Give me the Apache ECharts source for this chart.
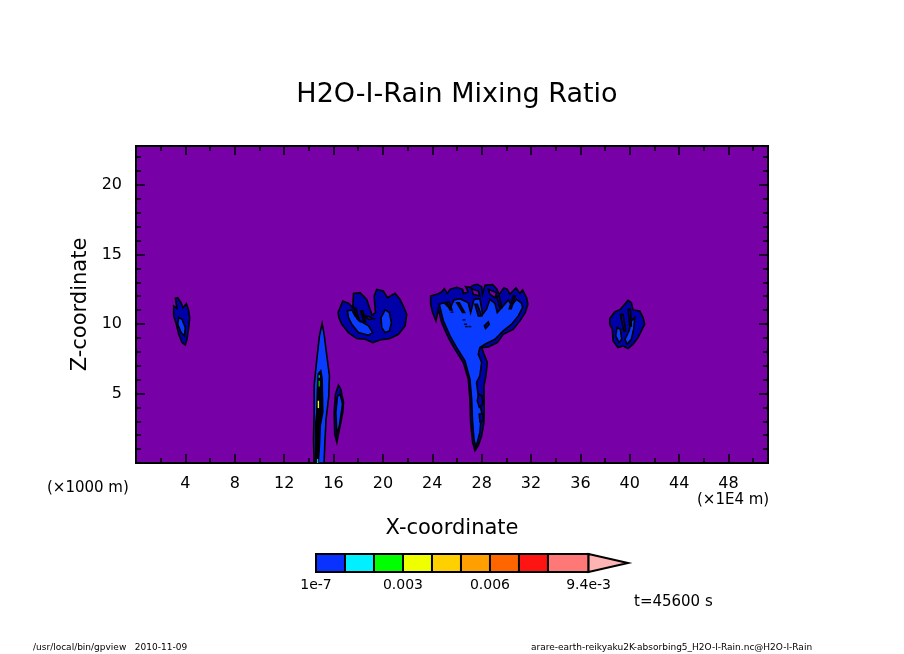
<!DOCTYPE html>
<html>
<head>
<meta charset="utf-8">
<title>H2O-I-Rain Mixing Ratio</title>
<script src="https://cdn.jsdelivr.net/npm/echarts@6/dist/echarts.min.js"></script>
<style>
  html, body { margin: 0; padding: 0; background: #fff; }
  #main { width: 904px; height: 654px; }
</style>
</head>
<body>
<div id="main"></div>
<script>
// tick positions and labels
var xMajorTicks = [4, 8, 12, 16, 20, 24, 28, 32, 36, 40, 44, 48];
var xMinorTicks = [2, 6, 10, 14, 18, 22, 26, 30, 34, 38, 42, 46, 50];
var zMajorTicks = [5, 10, 15, 20];
var zMinorTicks = [1, 2, 3, 4, 6, 7, 8, 9, 11, 12, 13, 14, 16, 17, 18, 19, 21, 22];

// colour bar
var barBounds = [0.0000001, 0.001, 0.002, 0.003, 0.004, 0.005, 0.006, 0.007, 0.008, 0.0094];
var barOverflow = 0.01076;
var barTicks = [0.0000001, 0.003, 0.006, 0.0094];
var barTickLabels = ['1e-7', '0.003', '0.006', '9.4e-3'];

// contour outlines, [x (1E4 m), z (1000 m)]
var plumeA = [[14.43,0],[14.38,1.72],[14.43,3.64],[14.43,5.55],[14.65,7.47],[14.86,9.14],[15.08,10.03],[15.24,9.26],[15.46,7.71],[15.67,6.27],[15.62,4.83],[15.40,3.16],[15.30,1.48],[15.24,0]];
var plumeACore = [[14.54,0],[14.54,2.68],[14.65,3.64],[14.70,5.31],[14.76,6.39],[14.97,6.63],[15.08,6.03],[15.13,3.64],[14.92,2.68],[14.86,1.25],[14.76,0]];
var streakGreen = [[14.80,5.91],[14.88,5.91],[14.88,5.50],[14.80,5.50]];
var streakYellow = [[14.72,4.48],[14.83,4.48],[14.83,3.95],[14.72,3.95]];
var streakCyan = [[14.80,6.32],[14.88,6.32],[14.88,6.13],[14.80,6.13]];
var streakCyanLow = [[14.68,0.28],[14.76,0.28],[14.76,0],[14.68,0]];

var plumeB = [[16.27,1.48],[16.10,2.08],[16.05,3.64],[16.16,4.95],[16.40,5.60],[16.59,5.31],[16.81,4.36],[16.75,3.64],[16.54,2.68],[16.37,1.96]];
var plumeBInner = [[16.27,2.08],[16.19,3.64],[16.32,4.79],[16.54,4.95],[16.73,4.24],[16.48,2.68]];

var capC = [[16.37,10.82],[16.75,11.65],[17.21,11.49],[17.56,11.18],[17.62,12.20],[18.15,12.25],[18.69,11.77],[18.91,11.18],[19.13,10.63],[19.40,10.82],[19.29,12.01],[19.50,12.49],[20.04,12.37],[20.37,11.89],[20.99,12.20],[21.39,11.77],[21.71,11.18],[21.93,10.70],[21.80,9.86],[21.26,9.26],[20.58,8.95],[19.77,8.85],[19.18,8.66],[18.56,8.90],[17.88,8.95],[17.21,9.38],[16.67,9.98],[16.43,10.46]];
var capCLeft = [[17.13,10.94],[17.48,11.01],[17.75,10.58],[18.15,10.22],[18.83,9.86],[19.18,9.38],[18.83,9.19],[18.02,9.38],[17.48,9.98],[17.21,10.46]];
var capCRight = [[20.18,11.01],[20.53,10.82],[20.69,10.10],[20.53,9.50],[20.18,9.38],[19.91,9.74],[19.85,10.46]];
var capCStrand1 = [[17.62,11.18],[17.94,10.34],[18.10,10.22],[17.83,11.10]];
var capCStrand2 = [[18.21,10.94],[18.42,10.22],[18.59,10.15],[18.37,10.94]];
var capCGap = [[18.42,10.63],[18.83,10.53],[19.23,10.39],[18.83,10.34]];

var fanD = [[23.87,12.01],[24.36,12.13],[24.76,12.30],[24.98,12.54],[25.22,12.20],[25.44,12.49],[25.98,12.64],[26.46,12.49],[26.52,12.20],[26.92,12.30],[26.70,12.68],[27.11,12.64],[27.32,12.78],[27.65,12.85],[28.00,12.68],[28.08,12.13],[28.27,12.78],[28.89,12.83],[29.21,12.54],[29.43,12.13],[29.81,12.61],[30.08,12.49],[30.29,12.13],[30.78,12.61],[31.10,12.20],[31.32,12.44],[31.64,11.89],[31.75,11.42],[31.53,10.82],[31.10,10.22],[30.56,9.62],[29.75,9.26],[29.27,8.66],[28.54,8.35],[28.00,8.30],[28.19,7.83],[28.46,7.23],[28.35,6.27],[28.19,5.55],[28.21,4.12],[28.19,2.92],[28.00,1.96],[27.73,1.25],[27.46,0.89],[27.27,1.48],[27.11,2.92],[27.05,4.60],[26.92,6.03],[26.52,7.23],[25.84,8.18],[25.30,9.02],[24.76,10.10],[24.49,11.06],[24.30,10.22],[24.03,10.82],[23.87,11.42]];
var fanDInner = [[24.57,11.42],[24.95,11.53],[25.44,11.10],[25.76,11.73],[26.25,11.82],[26.92,11.53],[27.11,10.82],[27.38,11.77],[27.86,11.82],[28.08,10.70],[28.40,11.06],[28.67,11.77],[29.08,11.49],[29.27,10.82],[29.75,11.30],[30.16,11.73],[30.43,11.34],[30.83,11.77],[31.24,11.49],[31.32,11.18],[30.97,10.58],[30.43,9.98],[29.75,9.50],[29.08,8.90],[28.27,8.54],[27.86,8.30],[27.73,7.83],[28.00,7.23],[27.86,6.27],[27.59,5.79],[27.73,4.83],[28.00,3.64],[27.86,2.20],[27.54,1.12],[27.38,1.72],[27.27,2.92],[27.19,4.60],[27.05,6.03],[26.65,7.35],[25.98,8.30],[25.44,9.14],[24.90,10.22]];
var fanDSliver1 = [[27.76,4.95],[28.03,4.83],[28.11,4.24],[27.81,4.00],[27.65,4.48]];
var fanDSliver2 = [[27.81,3.52],[28.13,3.52],[28.13,3.04],[27.86,2.97]];
var fanDStrand1 = [[25.17,11.58],[25.44,11.01],[25.60,11.01],[25.38,11.58]];
var fanDStrand2 = [[25.98,11.53],[26.46,10.82],[26.62,10.82],[26.19,11.53]];
var fanDStrand3 = [[27.46,11.42],[27.73,10.58],[28.00,10.58],[27.65,11.42]];
var fanDStrand4 = [[29.21,12.01],[29.48,11.18],[29.64,11.18],[29.43,12.01]];
var fanDStrand5 = [[30.56,12.01],[30.24,11.10],[30.40,11.10],[30.72,12.01]];
var fanDGap1 = [[27.19,12.54],[27.73,12.37],[27.86,12.01],[27.32,12.13]];
var fanDGap2 = [[28.54,12.49],[29.21,12.25],[29.08,11.89],[28.67,12.13]];
var fanDIsland = [[28.22,9.86],[28.54,10.15],[28.62,9.98],[28.32,9.67]];
var fanDSpecks = [[26.57,10.29],[26.70,9.98],[26.78,9.81],[27.05,9.81],[25.60,10.85]];

var blobE = [[3.19,11.84],[3.38,11.89],[3.65,11.53],[3.81,11.17],[4.08,11.46],[4.24,11.06],[4.35,10.46],[4.27,9.74],[4.13,8.90],[4.00,8.49],[3.73,8.66],[3.46,9.26],[3.27,9.98],[3.05,10.58],[3.05,11.29],[3.32,11.13]];
var blobEInner = [[3.46,10.46],[3.73,10.34],[4.00,9.74],[3.92,9.14],[3.65,9.38],[3.38,9.98]];

var blobF = [[38.38,10.38],[38.78,10.86],[39.24,11.05],[39.59,11.41],[39.86,11.70],[40.13,11.53],[40.27,11.01],[40.81,10.93],[41.08,10.46],[41.21,9.98],[40.94,9.50],[40.67,9.02],[40.27,8.54],[39.86,8.23],[39.46,8.42],[39.05,8.30],[38.65,8.78],[38.59,9.62],[38.38,9.98]];
var blobFLeft = [[38.97,9.74],[39.24,9.62],[39.35,8.90],[39.13,8.66],[38.86,9.14]];
var blobFRight = [[40.13,10.22],[40.40,10.46],[40.32,9.62],[40.13,8.90],[39.78,8.54],[39.62,8.90],[39.94,9.50]];
var blobFStrand1 = [[39.24,10.70],[39.51,9.50],[39.67,9.50],[39.46,10.70]];
var blobFStrand2 = [[39.86,11.05],[40.00,9.86],[40.13,9.86],[40.05,11.05]];

var PURPLE = '#7700a6', NAVY = '#0000a8', BLUE = '#0a3cff', BLACK = '#000';
var barColors = ['#0a32ff', '#00f0ff', '#00ff00', '#f0ff00', '#ffd000', '#ffa000', '#ff6600', '#ff1414', '#ff7878'];
var overflowColor = '#ffb4b4';

// painted in this order, later ones on top
var regions = [
  [plumeA, BLUE, 1], [plumeACore, BLACK, 1], [streakGreen, '#00ff00', 0], [streakYellow, '#f0ff00', 0],
  [streakCyan, '#00f0ff', 0], [streakCyanLow, '#00f0ff', 0],
  [plumeB, NAVY, 1], [plumeBInner, BLUE, 1],
  [capC, NAVY, 1], [capCLeft, BLUE, 1], [capCRight, BLUE, 1], [capCStrand1, NAVY, 1], [capCStrand2, NAVY, 1], [capCGap, PURPLE, 1],
  [fanD, NAVY, 1], [fanDInner, BLUE, 1], [fanDSliver1, NAVY, 1], [fanDSliver2, NAVY, 1],
  [fanDStrand1, NAVY, 1], [fanDStrand2, NAVY, 1], [fanDStrand3, NAVY, 1], [fanDStrand4, NAVY, 1], [fanDStrand5, NAVY, 1],
  [fanDGap1, PURPLE, 1], [fanDGap2, PURPLE, 1], [fanDIsland, NAVY, 1],
  [blobE, NAVY, 1], [blobEInner, BLUE, 1],
  [blobF, NAVY, 1], [blobFLeft, BLUE, 1], [blobFRight, BLUE, 1], [blobFStrand1, NAVY, 1], [blobFStrand2, NAVY, 1]
];

var FONT = '"DejaVu Sans", sans-serif';

// one axis per side per tick size, they all share the same scale
function frameAxis(kind, position, ticks, length, extra) {
  var axis = {
    type: 'value',
    gridIndex: 0,
    position: position,
    min: 0,
    max: kind === 'x' ? 51.2 : 22.8,
    splitLine: { show: false },
    axisLine: { show: true, onZero: false, lineStyle: { color: '#000', width: 2 } },
    axisTick: { show: true, inside: true, length: length, customValues: ticks, lineStyle: { color: '#000', width: 1.5 } },
    axisLabel: { show: false }
  };
  return Object.assign(axis, extra || {});
}

function tickLabel(ticks, margin) {
  return { show: true, customValues: ticks, margin: margin, color: '#000', fontFamily: FONT, fontSize: 16 };
}

var chart = echarts.init(document.getElementById('main'));

chart.setOption({
  animation: false,
  backgroundColor: '#fff',
  title: {
    text: 'H2O-I-Rain Mixing Ratio',
    left: 452,
    top: 76,
    textAlign: 'center',
    textStyle: { color: '#000', fontFamily: FONT, fontWeight: 'normal', fontSize: 27 }
  },
  grid: [
    { left: 136, right: 136, top: 146, bottom: 191, show: true, backgroundColor: PURPLE, borderWidth: 0 },
    { left: 316, top: 554, width: 312, height: 18, show: false }
  ],
  xAxis: [
    frameAxis('x', 'bottom', xMajorTicks, 9, {
      axisLabel: tickLabel(xMajorTicks, 13),
      name: 'X-coordinate',
      nameLocation: 'middle',
      nameGap: 55,
      nameTextStyle: { color: '#000', fontFamily: FONT, fontSize: 21 }
    }),
    frameAxis('x', 'bottom', xMinorTicks, 5),
    frameAxis('x', 'top', xMajorTicks, 9),
    frameAxis('x', 'top', xMinorTicks, 5),
    {
      type: 'value',
      gridIndex: 1,
      min: 0,
      max: barOverflow,
      splitLine: { show: false },
      axisLine: { show: false },
      axisTick: { show: false },
      axisLabel: {
        show: true,
        customValues: barTicks,
        margin: 6,
        color: '#000',
        fontFamily: FONT,
        fontSize: 14,
        formatter: function (v) { return barTickLabels[barTicks.indexOf(v)]; }
      }
    }
  ],
  yAxis: [
    frameAxis('z', 'left', zMajorTicks, 9, {
      axisLabel: tickLabel(zMajorTicks, 14),
      name: 'Z-coordinate',
      nameLocation: 'middle',
      nameGap: 43,
      nameRotate: 90,
      nameTextStyle: { color: '#000', fontFamily: FONT, fontSize: 21 }
    }),
    frameAxis('z', 'left', zMinorTicks, 5),
    frameAxis('z', 'right', zMajorTicks, 9),
    frameAxis('z', 'right', zMinorTicks, 5),
    {
      type: 'value',
      gridIndex: 1,
      min: 0,
      max: 1,
      show: false
    }
  ],
  graphic: [
    { type: 'text', left: 47, top: 481, style: { text: '(\u00d71000 m)', fill: '#000', font: '15px ' + FONT } },
    { type: 'text', left: 697, top: 493, style: { text: '(\u00d71E4 m)', fill: '#000', font: '15px ' + FONT } },
    { type: 'text', left: 634, top: 595, style: { text: 't=45600 s', fill: '#000', font: '15px ' + FONT } },
    { type: 'text', left: 33, top: 643, style: { text: '/usr/local/bin/gpview   2010-11-09', fill: '#000', font: '9px ' + FONT } },
    { type: 'text', left: 531, top: 643, style: { text: 'arare-earth-reikyaku2K-absorbing5_H2O-I-Rain.nc@H2O-I-Rain', fill: '#000', font: '9px ' + FONT } }
  ],
  series: [
    {
      type: 'custom',
      xAxisIndex: 0,
      yAxisIndex: 0,
      coordinateSystem: 'cartesian2d',
      clip: true,
      silent: true,
      data: regions.map(function (r, i) { return [i]; }),
      renderItem: function (params, api) {
        var r = regions[api.value(0)];
        return {
          type: 'polygon',
          shape: { points: r[0].map(function (p) { return api.coord(p); }) },
          style: { fill: r[1], stroke: r[2] ? '#000' : null, lineWidth: r[2] ? 1.6 : 0 }
        };
      }
    },
    {
      type: 'scatter',
      xAxisIndex: 0,
      yAxisIndex: 0,
      silent: true,
      symbol: 'rect',
      symbolSize: [3, 1.5],
      itemStyle: { color: '#000' },
      data: fanDSpecks,
      z: 3
    },
    {
      // colour bar boxes
      type: 'custom',
      xAxisIndex: 4,
      yAxisIndex: 4,
      coordinateSystem: 'cartesian2d',
      silent: true,
      data: barColors.map(function (c, i) { return [barBounds[i], barBounds[i + 1], i]; }),
      renderItem: function (params, api) {
        var a = api.coord([api.value(0), 1]);
        var b = api.coord([api.value(1), 0]);
        return {
          type: 'rect',
          shape: { x: a[0], y: a[1], width: b[0] - a[0], height: b[1] - a[1] },
          style: { fill: barColors[api.value(2)], stroke: '#000', lineWidth: 2 }
        };
      }
    },
    {
      // overflow arrow
      type: 'custom',
      xAxisIndex: 4,
      yAxisIndex: 4,
      coordinateSystem: 'cartesian2d',
      silent: true,
      data: [[barBounds[9], barOverflow]],
      renderItem: function (params, api) {
        return {
          type: 'polygon',
          shape: { points: [api.coord([api.value(0), 1]), api.coord([api.value(1), 0.5]), api.coord([api.value(0), 0])] },
          style: { fill: overflowColor, stroke: '#000', lineWidth: 2 }
        };
      }
    }
  ]
});
</script>
</body>
</html>
